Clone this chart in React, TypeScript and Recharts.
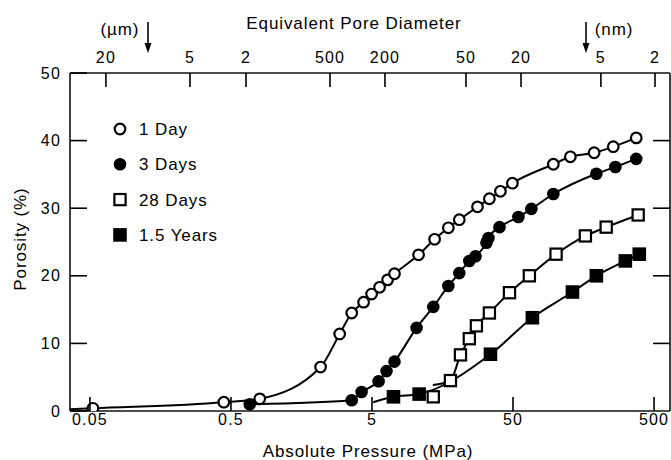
import { ComposedChart, Line, Scatter, XAxis, YAxis, Legend, Customized } from "recharts"

const FONT = "'Liberation Sans', Arial, Helvetica, sans-serif"

// absolute pressure (MPa) and porosity (%)
const oneDayPressure = [0.0525, 0.445, 0.8, 2.16, 2.95, 3.59, 4.36, 4.97, 5.66, 6.45, 7.22, 10.7, 13.9, 17.4, 20.8, 28.0, 34.0, 40.7, 49.5, 96.6, 127.6, 188, 257, 374]
const oneDayPorosity = [0.4, 1.3, 1.8, 6.5, 11.4, 14.5, 16.1, 17.3, 18.3, 19.4, 20.3, 23.1, 25.4, 27.1, 28.3, 30.2, 31.4, 32.5, 33.7, 36.5, 37.6, 38.2, 39.1, 40.4]

const threeDayPressure = [0.679, 3.59, 4.22, 5.57, 6.34, 7.22, 10.35, 13.6, 17.4, 20.8, 24.5, 27.1, 32.4, 33.5, 40.1, 54.6, 67.5, 96.6, 195, 266, 374]
const threeDayPorosity = [1.0, 1.6, 2.8, 4.4, 5.9, 7.3, 12.3, 15.4, 18.5, 20.4, 22.2, 22.9, 24.9, 25.6, 27.2, 28.7, 29.9, 32.1, 35.1, 36.1, 37.3]

const day28Pressure = [13.6, 18.0, 21.2, 24.5, 27.5, 34.0, 47.2, 65.3, 101, 163, 229, 386]
const day28Porosity = [2.1, 4.5, 8.3, 10.7, 12.6, 14.5, 17.5, 20.0, 23.2, 25.9, 27.2, 29.0]

const yearPressure = [7.1, 10.8, 34.6, 68.6, 132, 195, 313, 393]
const yearPorosity = [2.1, 2.5, 8.4, 13.8, 17.6, 20.0, 22.2, 23.2]

// where the hand-drawn curves start (no marker there)
const oneDayLeadPressure = [0.0361]
const oneDayLeadPorosity = [0.25]
const day28LeadPressure = [13.5]
const day28LeadPorosity = [3.85]
const yearLeadPressure = [5.1]
const yearLeadPorosity = [1.3]

const pressureTicks = [0.05, 0.5, 5, 50, 500]
const porosityTicks = [0, 10, 20, 30, 40, 50]
const innerPorosityTicks = [10, 20, 30, 40]
const poreLabels = ["20", "5", "2", "500", "200", "50", "20", "5", "2"]
const porePressures = [0.0649, 0.256, 0.639, 2.52, 6.18, 23.2, 57.0, 210, 508]

const seriesNames = ["1 Day", "3 Days", "28 Days", "1.5 Years"]
const seriesMarkers = ["openCircle", "circle", "openSquare", "square"]

const toPoints = (p: number[], v: number[]) => p.map((x, i) => ({ p: x, v: v[i] }))

const oneDayPoints = toPoints(oneDayPressure, oneDayPorosity)
const threeDayPoints = toPoints(threeDayPressure, threeDayPorosity)
const day28Points = toPoints(day28Pressure, day28Porosity)
const yearPoints = toPoints(yearPressure, yearPorosity)

const oneDayCurve = [...toPoints(oneDayLeadPressure, oneDayLeadPorosity), ...oneDayPoints]
const day28Curve = [...toPoints(day28LeadPressure, day28LeadPorosity), ...day28Points.slice(1)]
const yearCurve = [...toPoints(yearLeadPressure, yearLeadPorosity), ...yearPoints]

function Marker({ cx, cy, kind }: { cx: number; cy: number; kind: string }) {
  if (kind === "openCircle")
    return <circle cx={cx} cy={cy} r={5.3} fill="#fff" stroke="#000" strokeWidth={2.2} />
  if (kind === "circle") return <circle cx={cx} cy={cy} r={6.3} fill="#000" />
  if (kind === "openSquare")
    return <rect x={cx - 5.6} y={cy - 5.6} width={11.2} height={11.2} fill="#fff" stroke="#000" strokeWidth={2.2} />
  return <rect x={cx - 6.8} y={cy - 6.8} width={13.6} height={13.6} fill="#000" />
}

const tickText = { fontFamily: FONT, fontSize: 16, letterSpacing: 1.2, fill: "#000" }
const titleText = { fontFamily: FONT, fontSize: 17, letterSpacing: 0.9, fill: "#000" }
const axisLine = { stroke: "#111", strokeWidth: 1.6 }

function BottomTick({ x, y, payload }: any) {
  return (
    <g>
      <line x1={x} x2={x} y1={y} y2={y - 14} stroke="#000" strokeWidth={1.6} />
      <text x={x} y={y + 13.5} textAnchor="middle" {...tickText}>{payload.value}</text>
    </g>
  )
}

function TopTick({ x, y, payload }: any) {
  const i = porePressures.indexOf(payload.value)
  return (
    <g>
      <line x1={x} x2={x} y1={y} y2={y + 14} stroke="#000" strokeWidth={1.6} />
      <text x={x} y={y - 10} textAnchor="middle" {...tickText}>{poreLabels[i]}</text>
    </g>
  )
}

function LeftTick({ x, y, payload }: any) {
  return (
    <g>
      <line x1={x} x2={x + 17} y1={y} y2={y} stroke="#000" strokeWidth={1.6} />
      <text x={x - 9} y={y + 5.6} textAnchor="end" {...tickText}>{payload.value}</text>
    </g>
  )
}

function RightTick({ x, y }: any) {
  return <line x1={x} x2={x - 17} y1={y} y2={y} stroke="#000" strokeWidth={1.6} />
}

function Arrow({ x }: { x: number }) {
  return (
    <g>
      <line x1={x} x2={x} y1={22} y2={45} stroke="#000" strokeWidth={1.6} />
      <polygon points={`${x - 3.5},43 ${x + 3.5},43 ${x},53`} fill="#000" />
    </g>
  )
}

function Annotations() {
  return (
    <g>
      <text x={354} y={29} textAnchor="middle" {...titleText}>Equivalent Pore Diameter</text>
      <text x={120} y={35} textAnchor="middle" {...titleText}>(µm)</text>
      <text x={614} y={35} textAnchor="middle" {...titleText}>(nm)</text>
      <Arrow x={148} />
      <Arrow x={586} />
      <text x={368} y={457} textAnchor="middle" {...titleText}>Absolute Pressure (MPa)</text>
      <text x={26} y={239} textAnchor="middle" transform="rotate(-90 26 239)" {...titleText}>Porosity (%)</text>
    </g>
  )
}

function LegendBox() {
  return (
    <svg width={200} height={140}>
      {seriesNames.map((name, i) => (
        <g key={name}>
          <Marker cx={20} cy={19 + i * 35.3} kind={seriesMarkers[i]} />
          <text x={39} y={19 + i * 35.3 + 6} {...titleText}>{name}</text>
        </g>
      ))}
    </svg>
  )
}

export default function App() {
  return (
    <div style={{ position: "absolute", left: 0, top: 0, width: 671, height: 460, background: "#fff" }}>
      <ComposedChart width={671} height={460} margin={{ top: 72, right: 0, bottom: 48, left: 69 }}>
        <XAxis
          dataKey="p"
          type="number"
          scale="log"
          domain={[0.0361, 649]}
          allowDataOverflow
          ticks={pressureTicks}
          height={1}
          tickSize={0}
          tickMargin={0}
          tickLine={false}
          tick={<BottomTick />}
          axisLine={axisLine}
        />
        <XAxis
          xAxisId="top"
          orientation="top"
          dataKey="p"
          type="number"
          scale="log"
          domain={[0.0361, 649]}
          allowDataOverflow
          ticks={porePressures}
          height={1}
          tickSize={0}
          tickMargin={0}
          tickLine={false}
          tick={<TopTick />}
          axisLine={axisLine}
        />
        <YAxis
          yAxisId="l"
          dataKey="v"
          type="number"
          domain={[0, 50]}
          allowDataOverflow
          ticks={porosityTicks}
          width={1}
          tickSize={0}
          tickMargin={0}
          tickLine={false}
          tick={<LeftTick />}
          axisLine={axisLine}
        />
        <YAxis
          yAxisId="r"
          orientation="right"
          type="number"
          domain={[0, 50]}
          allowDataOverflow
          ticks={innerPorosityTicks}
          width={1}
          tickSize={0}
          tickMargin={0}
          tickLine={false}
          tick={<RightTick />}
          axisLine={axisLine}
        />
        <Line yAxisId="l" data={oneDayCurve} dataKey="v" type="monotone" stroke="#000" strokeWidth={2} dot={false} isAnimationActive={false} />
        <Line yAxisId="l" data={threeDayPoints} dataKey="v" type="monotone" stroke="#000" strokeWidth={2} dot={false} isAnimationActive={false} />
        <Line yAxisId="l" data={day28Curve} dataKey="v" type="monotone" stroke="#000" strokeWidth={2} dot={false} isAnimationActive={false} />
        <Line yAxisId="l" data={yearCurve} dataKey="v" type="monotone" stroke="#000" strokeWidth={2} dot={false} isAnimationActive={false} />
        <Scatter yAxisId="l" data={oneDayPoints} dataKey="v" isAnimationActive={false} shape={(p: any) => <Marker cx={p.cx} cy={p.cy} kind="openCircle" />} />
        <Scatter yAxisId="l" data={threeDayPoints} dataKey="v" isAnimationActive={false} shape={(p: any) => <Marker cx={p.cx} cy={p.cy} kind="circle" />} />
        <Scatter yAxisId="l" data={day28Points} dataKey="v" isAnimationActive={false} shape={(p: any) => <Marker cx={p.cx} cy={p.cy} kind="openSquare" />} />
        <Scatter yAxisId="l" data={yearPoints} dataKey="v" isAnimationActive={false} shape={(p: any) => <Marker cx={p.cx} cy={p.cy} kind="square" />} />
        <Legend
          layout="vertical"
          align="center"
          verticalAlign="middle"
          wrapperStyle={{ left: 100, top: 110, width: 200, height: 140 }}
          content={() => <LegendBox />}
        />
        <Customized component={Annotations} />
      </ComposedChart>
    </div>
  )
}
